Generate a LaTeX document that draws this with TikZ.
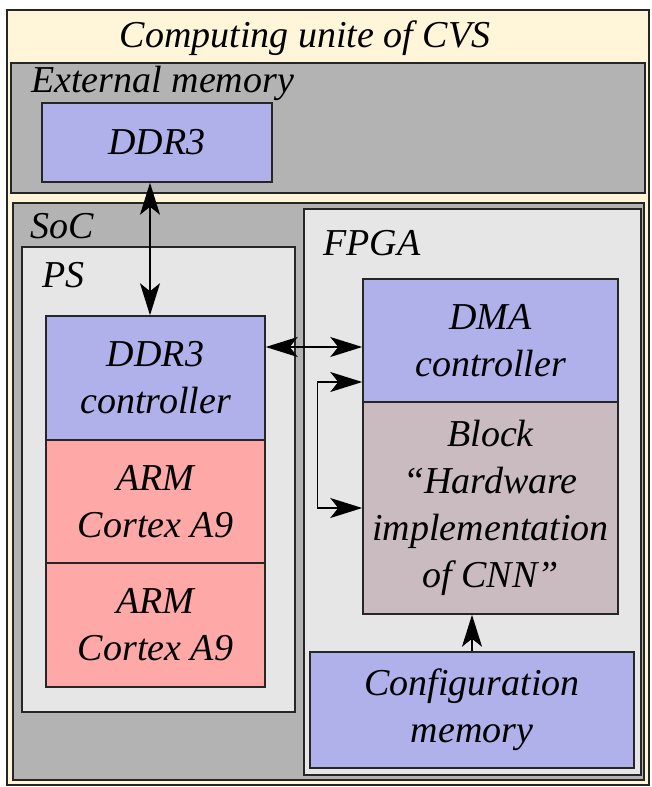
\documentclass[tikz,border=0pt]{standalone}
\usepackage{fontspec}
\setmainfont{Liberation Serif}
\usetikzlibrary{arrows.meta}
\definecolor{cream}{RGB}{255,245,216}
\definecolor{dgray}{RGB}{179,179,179}
\definecolor{lgray}{RGB}{230,230,230}
\definecolor{lav}{RGB}{176,176,234}
\definecolor{pinkc}{RGB}{255,168,168}
\definecolor{mauve}{RGB}{202,187,193}
\begin{document}
\begin{tikzpicture}[x=1pt,y=-1pt,
  frame/.style={draw=black!85,line width=1.5pt},
  blk/.style={frame,rectangle,inner sep=0pt,align=center,
    font=\fontsize{38}{47}\selectfont\itshape},
  lbl/.style={anchor=base west,inner sep=0pt,font=\fontsize{38}{47}\selectfont\itshape},
  dar/.style={line width=1.5pt,{Stealth[length=32pt,width=20pt,inset=8pt]}-{Stealth[length=32pt,width=20pt,inset=8pt]}},
  sar/.style={line width=1.5pt,-{Stealth[length=32pt,width=20pt,inset=8pt]}}]
\useasboundingbox (0,0) rectangle (651,787);
\fill[white] (0,0) rectangle (651,787);
% containers
\filldraw[frame,fill=cream] (7,10) rectangle (649,785);
\filldraw[frame,fill=dgray] (11,63) rectangle (645,193);
\filldraw[frame,fill=dgray] (13,203) rectangle (644,780);
\filldraw[frame,fill=lgray] (22,247) rectangle (295,712);
\filldraw[frame,fill=lgray] (304,209) rectangle (641,775);
% container labels
\node[anchor=base,inner sep=0pt,font=\fontsize{38}{47}\selectfont\itshape] (title) at (305,47) {Computing unite of CVS};
\node[lbl] (extlbl) at (31,92) {External memory};
\node[lbl] (soclbl) at (30,238) {SoC};
\node[lbl] (pslbl) at (42,287) {PS};
\node[lbl] (fpgalbl) at (323,255) {FPGA};
% blocks
\node[blk,fill=lav,minimum width=230pt,minimum height=79pt] (ddr3) at (157,142.5) {DDR3};
\node[blk,fill=lav,minimum width=219pt,minimum height=124pt] (ddrctl) at (155.5,378) {DDR3\\controller};
\node[blk,fill=pinkc,minimum width=219pt,minimum height=123pt] (arm1) at (155.5,501.5) {ARM\\Cortex A9};
\node[blk,fill=pinkc,minimum width=219pt,minimum height=124pt] (arm2) at (155.5,625) {ARM\\Cortex A9};
\node[blk,fill=lav,minimum width=255pt,minimum height=123pt] (dma) at (490.5,340.5) {DMA\\controller};
\node[blk,fill=mauve,minimum width=255pt,minimum height=212pt] (block) at (490.5,508) {Block\\“Hardware\\implementation\\of CNN”};
\node[blk,fill=lav,minimum width=324pt,minimum height=116pt] (config) at (472,710) {Configuration\\memory};
% connectors
\draw[dar] ([xshift=-5.5pt]ddr3.south -| ddrctl.north) -- ([xshift=-5.5pt]ddrctl.north);
\draw[dar] ([yshift=31pt]ddrctl.east) -- ([yshift=31pt]ddrctl.east -| dma.west);
\draw[dar] ([yshift=-41.5pt]dma.west) -- ++(-45pt,0) |- (block.west);
\draw[sar] (config.north) -- (config.north |- block.south);
\end{tikzpicture}
\end{document}
